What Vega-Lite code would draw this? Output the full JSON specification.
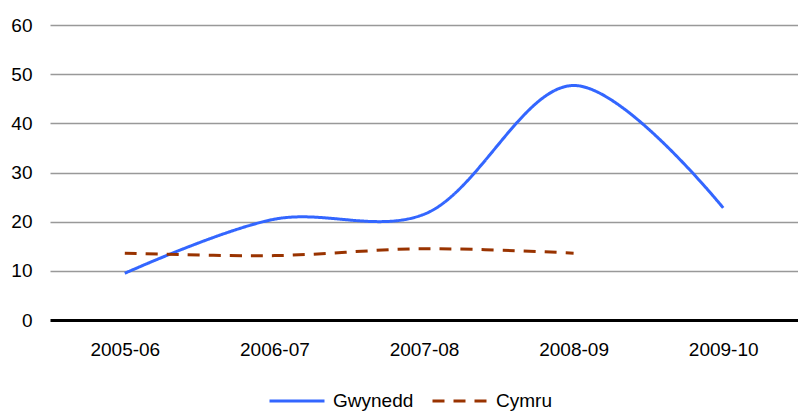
{
  "$schema": "https://vega.github.io/schema/vega-lite/v6.json",
  "width": 748,
  "height": 295,
  "autosize": "none",
  "padding": {"left": 50, "top": 25, "right": 0, "bottom": 92},
  "background": "white",
  "config": {
    "view": {"stroke": null},
    "font": "Liberation Sans"
  },
  "data": {
    "values": [
      {"year": "2005-06", "series": "Gwynedd", "value": 9.5},
      {"year": "2006-07", "series": "Gwynedd", "value": 20.5},
      {"year": "2007-08", "series": "Gwynedd", "value": 21.5},
      {"year": "2008-09", "series": "Gwynedd", "value": 47.7},
      {"year": "2009-10", "series": "Gwynedd", "value": 22.8},
      {"year": "2005-06", "series": "Cymru", "value": 13.6},
      {"year": "2006-07", "series": "Cymru", "value": 13.1},
      {"year": "2007-08", "series": "Cymru", "value": 14.5},
      {"year": "2008-09", "series": "Cymru", "value": 13.6}
    ]
  },
  "mark": {"type": "line", "interpolate": "catmull-rom", "strokeWidth": 3},
  "encoding": {
    "x": {
      "field": "year",
      "type": "ordinal",
      "title": null,
      "scale": {"paddingInner": 0, "paddingOuter": 0.5},
      "axis": {
        "labelAngle": 0,
        "labelFontSize": 19,
        "labelColor": "#000000",
        "labelPadding": 20,
        "ticks": false,
        "domain": false,
        "grid": false
      }
    },
    "y": {
      "field": "value",
      "type": "quantitative",
      "title": null,
      "scale": {"domain": [0, 60], "nice": false},
      "axis": {
        "values": [0, 10, 20, 30, 40, 50, 60],
        "labelFontSize": 19,
        "labelColor": "#000000",
        "labelPadding": 18,
        "ticks": false,
        "domain": false,
        "grid": true,
        "gridColor": {"condition": {"test": "datum.value === 0", "value": "#000000"}, "value": "#999999"},
        "gridWidth": {"condition": {"test": "datum.value === 0", "value": 3}, "value": 1.5}
      }
    },
    "color": {
      "field": "series",
      "type": "nominal",
      "scale": {"domain": ["Gwynedd", "Cymru"], "range": ["#3366FF", "#993300"]},
      "legend": {
        "title": null,
        "orient": "none",
        "direction": "horizontal",
        "legendX": 218,
        "legendY": 347,
        "labelFontSize": 19,
        "labelColor": "#000000",
        "labelOffset": 7,
        "columnPadding": 12,
        "symbolSize": 3025,
        "symbolStrokeWidth": 3,
        "symbolType": "stroke"
      }
    },
    "strokeDash": {
      "field": "series",
      "type": "nominal",
      "scale": {"domain": ["Gwynedd", "Cymru"], "range": [[1, 0], [12, 9]]},
      "legend": null
    }
  }
}
